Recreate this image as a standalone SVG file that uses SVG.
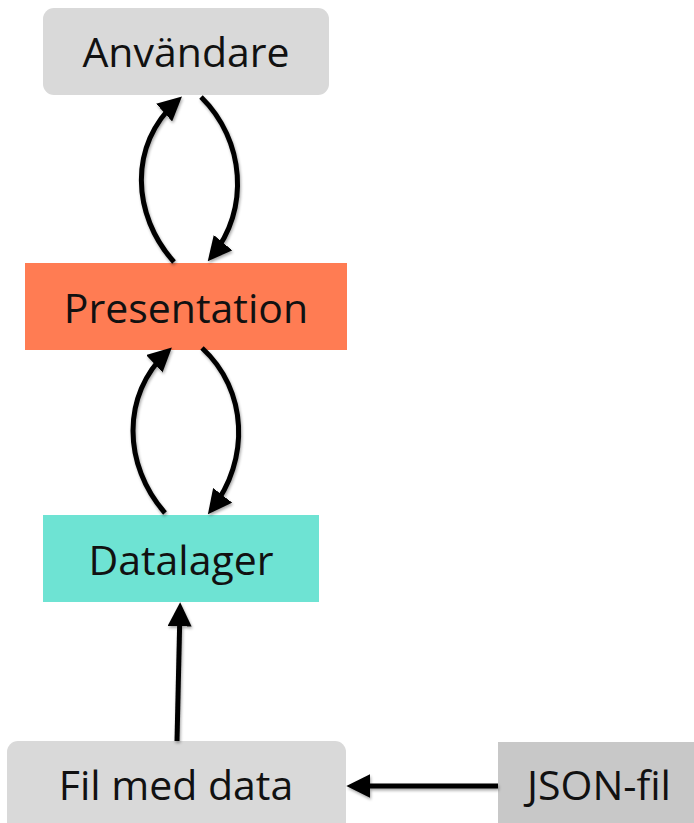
<svg xmlns="http://www.w3.org/2000/svg" width="694" height="823" viewBox="0 0 694 823">
<style>
.lbl{font-family:"Open Sans","Noto Sans","Liberation Sans",sans-serif;font-size:41px;fill:#111;text-anchor:middle}
.con{fill:none;stroke:#000;stroke-width:5;stroke-linecap:butt}
</style>
<defs>
<marker id="ah" markerUnits="userSpaceOnUse" markerWidth="24" markerHeight="24" viewBox="0 0 18 18" refX="13" refY="9" orient="auto">
<path d="M0,0 L18,9 L0,18 z" fill="#000"/>
</marker>
<filter id="sh" x="-20%" y="-20%" width="140%" height="140%">
<feGaussianBlur in="SourceAlpha" stdDeviation="1.5"/>
<feOffset dx="1" dy="2" result="b"/>
<feComponentTransfer><feFuncA type="linear" slope="0.35"/></feComponentTransfer>
<feMerge><feMergeNode/><feMergeNode in="SourceGraphic"/></feMerge>
</filter>
</defs>
<g id="anvandare">
<rect x="43" y="8" width="286" height="87" rx="11" fill="#d9d9d9"/>
<text class="lbl" x="186" y="67">Användare</text>
</g>
<g id="presentation">
<rect x="25" y="263" width="322" height="87" fill="#ff7c53"/>
<text class="lbl" x="186" y="323">Presentation</text>
</g>
<g id="datalager">
<rect x="43" y="515" width="276" height="87" fill="#6ee3d3"/>
<text class="lbl" x="181" y="575">Datalager</text>
</g>
<g id="filmeddata">
<rect x="7" y="741" width="339" height="95" rx="11" fill="#d9d9d9"/>
<text class="lbl" x="176" y="800">Fil med data</text>
</g>
<g id="jsonfil">
<rect x="498" y="742" width="196" height="81" fill="#c8c8c8"/>
<text class="lbl" x="599" y="800">JSON-fil</text>
</g>
<g id="connectors" filter="url(#sh)">
<path class="con" d="M174,262 C132,215 128,145 177,101" marker-end="url(#ah)"/>
<path class="con" d="M201,97 C245,140 250,210 212,256" marker-end="url(#ah)"/>
<path class="con" d="M165,513 C123,465 121,395 167,352" marker-end="url(#ah)"/>
<path class="con" d="M202,348 C248,390 250,460 212,509" marker-end="url(#ah)"/>
<path class="con" d="M177,741 L180,609" marker-end="url(#ah)"/>
<path class="con" d="M498,786 L353,786" marker-end="url(#ah)"/>
</g>
</svg>
